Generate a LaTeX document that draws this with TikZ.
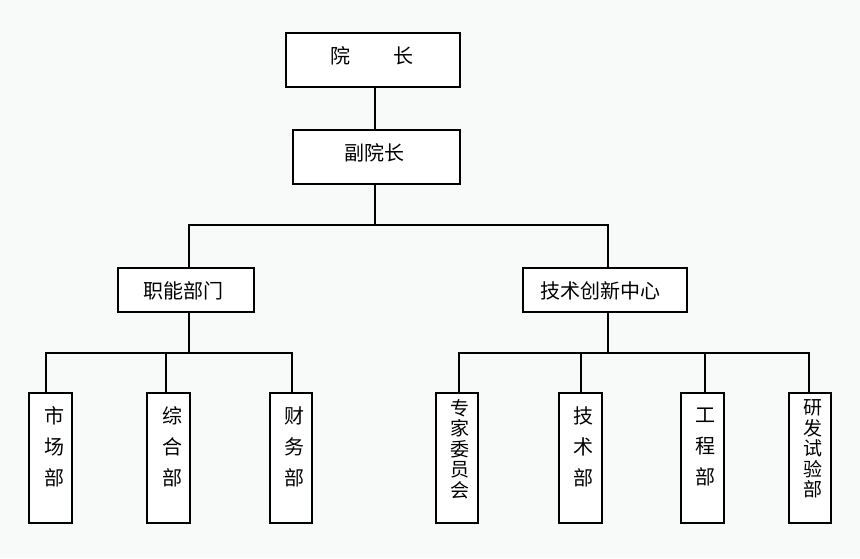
\documentclass[tikz,border=0pt]{standalone}
\usepackage{fontspec}
\setmainfont{Noto Sans CJK SC}
\definecolor{bgc}{RGB}{248,250,250}
\begin{document}
\begin{tikzpicture}[x=1pt,y=-1pt,
  box/.style={draw=black, line width=2pt, fill=white, inner sep=0pt, anchor=north west},
  lbl/.style={inner sep=0pt, font=\fontsize{20}{24}\selectfont},
  vlbl/.style={inner sep=0pt, align=center, font=\fontsize{20}{31}\selectfont},
  vlbl5/.style={inner sep=0pt, align=center, font=\fontsize{19}{20.5}\selectfont},
  conn/.style={line width=2pt, line cap=rect}]
\fill[bgc] (0,0) rectangle (860,558);
\useasboundingbox (0,0) rectangle (860,558);
% top
\node[box, minimum width=174pt, minimum height=54pt] (yz) at (285,32) {};
\node[lbl] (yzt) at (371.5,56) {院\hspace{43pt}长};
\node[box, minimum width=167pt, minimum height=54pt] (fyz) at (292,129) {};
\node[lbl] (fyzt) at (374,153) {副院长};
% middle
\node[box, minimum width=136pt, minimum height=44pt] (znbm) at (117,267) {};
\node[lbl] (znbmt) at (183,291) {职能部门};
\node[box, minimum width=164pt, minimum height=44pt] (jscx) at (522,267) {};
\node[lbl] (jscxt) at (600,291) {技术创新中心};
% bottom
\node[box, minimum width=43pt, minimum height=130pt] (scb) at (28,392) {};
\node[vlbl] (scbt) at (54,447) {市\\场\\部};
\node[box, minimum width=43pt, minimum height=130pt] (zhb) at (146,392) {};
\node[vlbl] (zhbt) at (172,447) {综\\合\\部};
\node[box, minimum width=42pt, minimum height=130pt] (cwb) at (269,392) {};
\node[vlbl] (cwbt) at (294,447) {财\\务\\部};
\node[box, minimum width=42pt, minimum height=130pt] (zjw) at (435,392) {};
\node[vlbl5] (zjwt) at (460,449) {专\\家\\委\\员\\会};
\node[box, minimum width=43pt, minimum height=130pt] (jsb) at (558,392) {};
\node[vlbl] (jsbt) at (583,447) {技\\术\\部};
\node[box, minimum width=43pt, minimum height=130pt] (gcb) at (680,392) {};
\node[vlbl] (gcbt) at (705,447) {工\\程\\部};
\node[box, minimum width=42pt, minimum height=130pt] (yfb) at (788,392) {};
\node[vlbl5] (yfbt) at (813,449) {研\\发\\试\\验\\部};
% connectors
\coordinate (a) at (375,0);
\draw[conn] (a |- yz.south) -- (a |- fyz.north);
\coordinate (b1L) at (189,225);
\coordinate (b1R) at (608,225);
\draw[conn] (a |- fyz.south) -- (a |- b1L);
\draw[conn] (b1L) -- (b1R);
\draw[conn] (b1L) -- (b1L |- znbm.north);
\draw[conn] (b1R) -- (b1R |- jscx.north);
\coordinate (b2L) at (46,353);
\coordinate (b2R) at (292,353);
\coordinate (b3L) at (459,353);
\coordinate (b3R) at (809,353);
\draw[conn] (b1L |- znbm.south) -- (b1L |- b2L);
\draw[conn] (b1R |- jscx.south) -- (b1R |- b3L);
\draw[conn] (b2L) -- (b2R);
\draw[conn] (b3L) -- (b3R);
\coordinate (t1) at (46,353);
\coordinate (t2) at (166,353);
\coordinate (t3) at (292,353);
\coordinate (t4) at (459,353);
\coordinate (t5) at (581,353);
\coordinate (t6) at (705,353);
\coordinate (t7) at (809,353);
\draw[conn] (t1) -- (t1 |- scb.north);
\draw[conn] (t2) -- (t2 |- zhb.north);
\draw[conn] (t3) -- (t3 |- cwb.north);
\draw[conn] (t4) -- (t4 |- zjw.north);
\draw[conn] (t5) -- (t5 |- jsb.north);
\draw[conn] (t6) -- (t6 |- gcb.north);
\draw[conn] (t7) -- (t7 |- yfb.north);
\end{tikzpicture}
\end{document}
